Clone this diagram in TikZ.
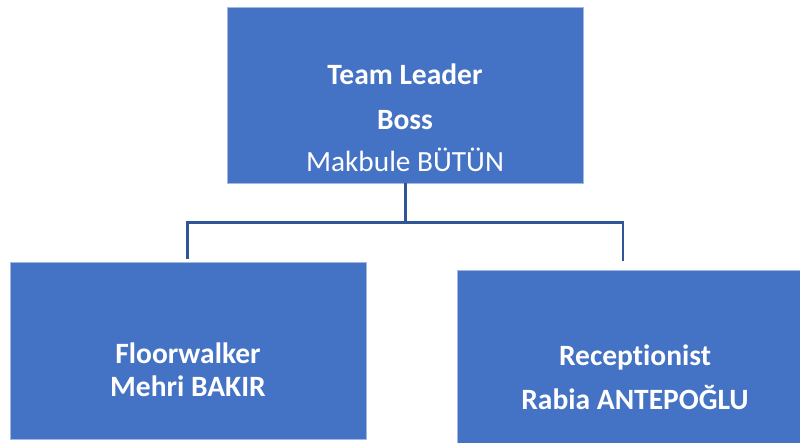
\documentclass[tikz,border=0pt]{standalone}
\usepackage{fontspec}
\setmainfont[Ligatures=NoCommon]{Carlito}
\definecolor{boxblue}{HTML}{4472C4}
\definecolor{boxedge}{HTML}{A4B9E2}
\definecolor{linkblue}{HTML}{2F5597}
\begin{document}
\begin{tikzpicture}[x=1pt,y=1pt,
  orgbox/.style={draw=boxedge,line width=0.8pt,fill=boxblue,inner sep=0pt},
  lbl/.style={text=white,anchor=base,inner sep=0pt,font=\fontsize{29.5}{34}\selectfont\bfseries},
  lblreg/.style={text=white,anchor=base,inner sep=0pt,font=\fontsize{29.3}{34}\selectfont},
  link/.style={draw=linkblue,line width=2.6pt}]
\useasboundingbox (0,0) rectangle (800,442);
\begin{scope}
\clip (0,0) rectangle (800,442);
\node[orgbox,minimum width=356pt,minimum height=176pt] (top) at (405,347) {};
\node[orgbox,minimum width=356pt,minimum height=177pt] (left) at (188,91.5) {};
\node[orgbox,minimum width=350pt,minimum height=180pt] (right) at (632,82) {};
\end{scope}
\node[lbl] (t1) at (405,357) {Team Leader};
\node[lbl] (t2) at (405,312) {Boss};
\node[lblreg] (t3) at (405,270) {Makbule BÜTÜN};
\node[lbl] (l1) at (188,79) {Floorwalker};
\node[lbl] (l2) at (188,46) {Mehri BAKIR};
\node[lbl] (r1) at (635,77) {Receptionist};
\node[lbl] (r2) at (635,33) {Rabia ANTEPOĞLU};
\coordinate (hub) at (405.5,219.5);
\coordinate (lend) at (187.5,183);
\coordinate (rend) at (623,181);
\draw[link] (top.south -| hub) -- (hub);
\draw[link] (lend) -- (lend |- hub) -- (rend |- hub) -- (rend);
\end{tikzpicture}
\end{document}
